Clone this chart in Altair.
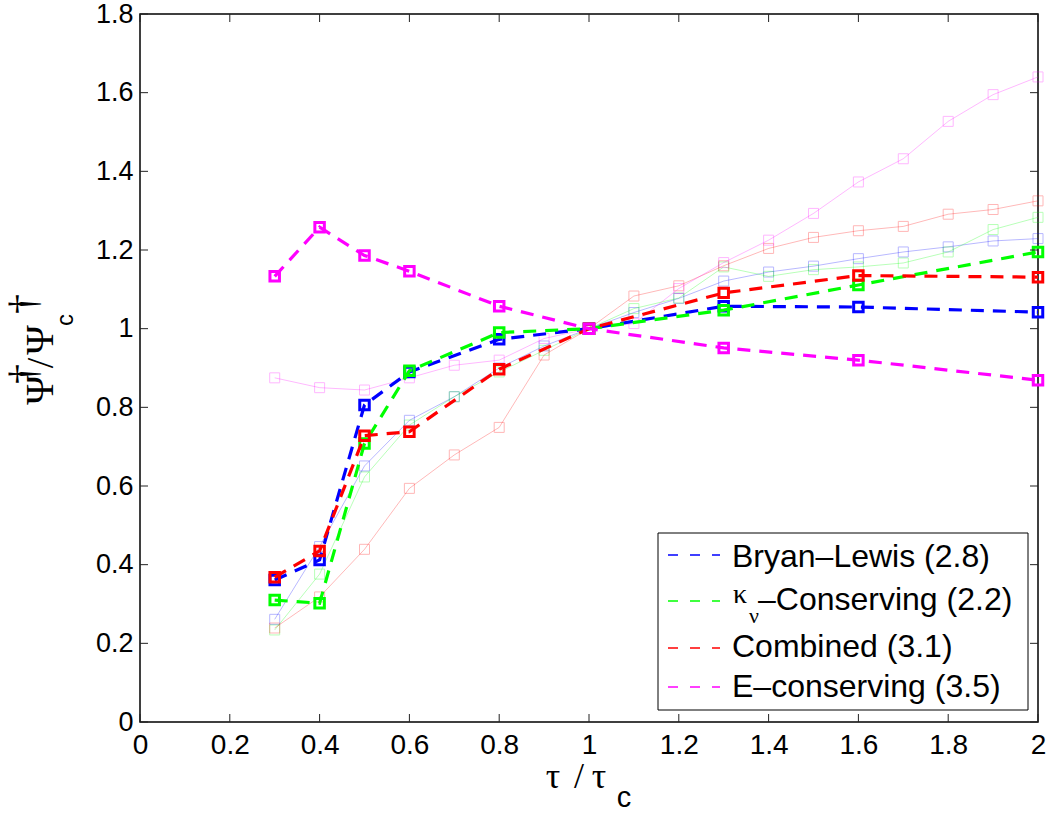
import altair as alt
import pandas as pd

# ---------------- data ----------------
x_main = [0.3, 0.4, 0.5, 0.6, 0.8, 1.0, 1.3, 1.6, 2.0]
bryan = [0.361, 0.412, 0.806, 0.890, 0.973, 1.0, 1.057, 1.055, 1.042]
kappa = [0.310, 0.302, 0.708, 0.893, 0.990, 1.0, 1.047, 1.111, 1.195]
combined = [0.368, 0.435, 0.728, 0.738, 0.897, 1.0, 1.091, 1.135, 1.131]
econs = [1.133, 1.258, 1.186, 1.146, 1.057, 1.0, 0.951, 0.920, 0.869]

x_fine = [0.3, 0.4, 0.5, 0.6, 0.7, 0.8, 0.9, 1.0, 1.1, 1.2, 1.3, 1.4, 1.5, 1.6, 1.7, 1.8, 1.9, 2.0]
faint_blue = [0.261, 0.446, 0.651, 0.767, 0.827, 0.900, 0.956, 1.0, 1.041, 1.077, 1.121, 1.144, 1.159, 1.178, 1.195, 1.208, 1.223, 1.229]
faint_green = [0.234, 0.376, 0.623, 0.755, 0.827, 0.890, 0.945, 1.0, 1.051, 1.078, 1.157, 1.133, 1.150, 1.157, 1.167, 1.195, 1.252, 1.283]
faint_red = [0.239, 0.318, 0.439, 0.594, 0.679, 0.749, 0.933, 1.0, 1.083, 1.109, 1.160, 1.204, 1.232, 1.249, 1.260, 1.291, 1.303, 1.325]
faint_magenta = [0.875, 0.850, 0.844, 0.875, 0.907, 0.920, 0.975, 1.0, 1.013, 1.102, 1.168, 1.225, 1.293, 1.373, 1.432, 1.527, 1.595, 1.640]

series_names = ["Bryan\u2013Lewis (2.8)", "\u03ba\u03bd\u2013Conserving (2.2)", "Combined (3.1)", "E\u2013conserving (3.5)"]
series_colors = ["#0000ff", "#00ff00", "#ff0000", "#ff00ff"]
main_values = [bryan, kappa, combined, econs]
faint_values = [faint_blue, faint_green, faint_red, faint_magenta]

x_ticks = [0, 0.2, 0.4, 0.6, 0.8, 1.0, 1.2, 1.4, 1.6, 1.8, 2.0]
y_ticks = [0, 0.2, 0.4, 0.6, 0.8, 1.0, 1.2, 1.4, 1.6, 1.8]

# ---------------- layout / style ----------------
W, H = 898, 708
SANS = "Liberation Sans"
SERIF = "Liberation Serif"
TICK_LEN = 8

xscale = alt.Scale(domain=[0, 2], nice=False, zero=False)
yscale = alt.Scale(domain=[0, 1.8], nice=False, zero=False)
xaxis = alt.Axis(values=x_ticks, format="~g", ticks=False, domain=False, grid=False,
                 labelFontSize=28, labelFont=SANS, labelColor="black", labelPadding=9,
                 labelFlush=False, labelOverlap=False, title=None)
yaxis = alt.Axis(values=y_ticks, format="~g", ticks=False, domain=False, grid=False,
                 labelFontSize=27, labelFont=SANS, labelColor="black", labelPadding=7,
                 labelOverlap=False, title=None)

X = alt.X("t:Q", scale=xscale, axis=xaxis)
Y = alt.Y("v:Q", scale=yscale, axis=yaxis)

layers = []

# faint thin series
for vals, col in zip(faint_values, series_colors):
    df = pd.DataFrame({"t": x_fine, "v": vals})
    base = alt.Chart(df)
    layers.append(base.mark_line(color=col, opacity=0.28, strokeWidth=1).encode(x=X, y=Y))
    layers.append(base.mark_point(shape="square", size=100, filled=False, color=col,
                                  opacity=0.28, strokeWidth=1).encode(x=X, y=Y))

# dashed main series
for vals, col in zip(main_values, series_colors):
    df = pd.DataFrame({"t": x_main, "v": vals})
    base = alt.Chart(df)
    layers.append(base.mark_line(color=col, strokeWidth=3.2, strokeDash=[13, 9]).encode(x=X, y=Y))
    layers.append(base.mark_point(shape="square", size=90, filled=False, color=col,
                                  opacity=1, strokeWidth=3).encode(x=X, y=Y))

# inward ticks (box style)
xt = alt.Chart(pd.DataFrame({"t": x_ticks}))
yt = alt.Chart(pd.DataFrame({"v": y_ticks}))
tick_style = dict(color="#222222", strokeWidth=1)
layers.append(xt.mark_rule(**tick_style).encode(x=X, y=alt.value(H), y2=alt.value(H - TICK_LEN)))
layers.append(xt.mark_rule(**tick_style).encode(x=X, y=alt.value(0), y2=alt.value(TICK_LEN)))
layers.append(yt.mark_rule(**tick_style).encode(y=Y, x=alt.value(0), x2=alt.value(TICK_LEN)))
layers.append(yt.mark_rule(**tick_style).encode(y=Y, x=alt.value(W - TICK_LEN), x2=alt.value(W)))

one = alt.Chart(pd.DataFrame({"k": [0]}))

# legend box
layers.append(one.mark_rect(fill="white", stroke="black", strokeWidth=1).encode(
    x=alt.value(518), x2=alt.value(888), y=alt.value(519), y2=alt.value(696)))

line_y = [541, 587, 634, 673]
text_base = [553, 596, 643, 683]
LEG_FS = 32
for i, (name, col) in enumerate(zip(series_names, series_colors)):
    layers.append(one.mark_rule(color=col, strokeWidth=1.5, strokeDash=[10, 12]).encode(
        x=alt.value(528), x2=alt.value(580), y=alt.value(line_y[i])))
    if i == 1:
        layers.append(one.mark_text(align="left", baseline="alphabetic", font=SERIF, fontSize=28,
                                    color="black").encode(
            x=alt.value(593), y=alt.value(589), text=alt.value(name[0])))
        layers.append(one.mark_text(align="left", baseline="alphabetic", font=SERIF, fontSize=22,
                                    color="black").encode(
            x=alt.value(609), y=alt.value(609), text=alt.value(name[1])))
        layers.append(one.mark_text(align="left", baseline="alphabetic", font=SANS, fontSize=LEG_FS,
                                    color="black").encode(
            x=alt.value(618), y=alt.value(text_base[i]), text=alt.value(name[2:])))
    else:
        layers.append(one.mark_text(align="left", baseline="alphabetic", font=SANS, fontSize=LEG_FS,
                                    color="black").encode(
            x=alt.value(592), y=alt.value(text_base[i]), text=alt.value(name)))

# y-axis title  Psi-dagger / Psi-dagger_c (rotated)
def ytxt(s, xv, yv, size, font, baseline="alphabetic"):
    return one.mark_text(angle=270, align="center", baseline=baseline, font=font,
                         fontSize=size, color="black").encode(
        x=alt.value(xv), y=alt.value(yv), text=alt.value(s))

layers.append(ytxt("\u03a8", -87, 376, 40, SERIF))
layers.append(ytxt("\u2020", -104, 360, 40, SERIF))
layers.append(ytxt("/", -87, 349, 38, SERIF))
layers.append(ytxt("\u03a8", -87, 326, 40, SERIF))
layers.append(ytxt("c", -67, 306, 24, SANS))
layers.append(ytxt("\u2020", -104, 290, 40, SERIF))

# x-axis title  tau / tau_c
def xtxt(s, xv, yv, size, font):
    return one.mark_text(align="center", baseline="alphabetic", font=font,
                         fontSize=size, color="black").encode(
        x=alt.value(xv), y=alt.value(yv), text=alt.value(s))

layers.append(xtxt("\u03c4", 413, 774, 36, SERIF))
layers.append(xtxt("/", 439, 774, 36, SERIF))
layers.append(xtxt("\u03c4", 459, 774, 36, SERIF))
layers.append(xtxt("c", 484, 793, 29, SANS))

chart = alt.layer(*layers).properties(
    width=W, height=H,
    padding={"left": 140, "top": 14, "right": 17, "bottom": 92},
    autosize="none",
    background="white",
).configure_view(stroke="black", strokeWidth=1.5)

chart.save("out.html", embed_options={"renderer": "svg", "actions": False})
